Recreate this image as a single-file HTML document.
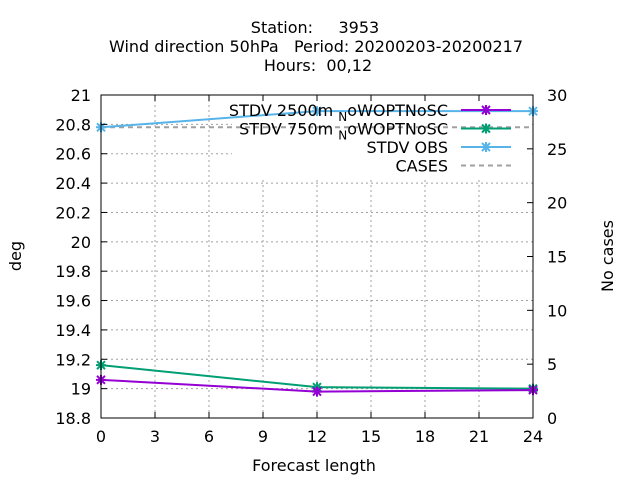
<!DOCTYPE html>
<html><head><meta charset="utf-8"><style>
body{margin:0;background:#fff;}
svg text{font-family:"DejaVu Sans","Liberation Sans",sans-serif;font-size:16px;fill:#000;white-space:pre;}
</style></head><body>
<svg id="c" width="640" height="480" viewBox="0 0 640 480">
<text x="315" y="33" text-anchor="middle" xml:space="preserve">Station:     3953</text>
<text x="316" y="52" text-anchor="middle" xml:space="preserve">Wind direction 50hPa   Period: 20200203-20200217</text>
<text x="318" y="71" text-anchor="middle" xml:space="preserve">Hours:  00,12</text>
<g id="grid"></g>
<rect x="232" y="96" width="300" height="82" fill="#fff"/>
<g id="series"></g>
<rect x="101" y="95" width="432" height="323" fill="none" stroke="#000" stroke-width="1"/>
<g id="ticks"></g>
<text x="314" y="471" text-anchor="middle">Forecast length</text>
<text transform="translate(21,256) rotate(-90)" text-anchor="middle">deg</text>
<text transform="translate(613,256) rotate(-90)" text-anchor="middle">No cases</text>
<g id="legend"></g>
</svg>
<script>
const xs=[0,12,24];
const s2500=[19.06,18.98,18.99];
const s750=[19.16,19.01,19.00];
const sObs=[20.78,20.89,20.89];
const cases=[27,27,27];
const xTicks=[0,3,6,9,12,15,18,21,24];
const yTicks=[18.8,19,19.2,19.4,19.6,19.8,20,20.2,20.4,20.6,20.8,21];
const y2Ticks=[0,5,10,15,20,25,30];
const L=101,R=533,T=95,B=418;
const X=v=>L+(v-0)/24*(R-L);
const Y=v=>B-(v-18.8)/2.2*(B-T);
const Y2=v=>B-v/30*(B-T);
const NS="http://www.w3.org/2000/svg";
function mk(t,a,p){const e=document.createElementNS(NS,t);for(const k in a)e.setAttribute(k,a[k]);p.appendChild(e);return e;}
const g=document.getElementById('grid'),tk=document.getElementById('ticks'),se=document.getElementById('series'),lg=document.getElementById('legend');
xTicks.forEach(v=>{const x=X(v);
 if(v>0&&v<24){const l=mk('line',{x1:x,x2:x,y1:T,y2:B,stroke:'#a0a0a0','stroke-dasharray':'2,3'},g);}
 mk('line',{x1:x,x2:x,y1:B,y2:B-6,stroke:'#000'},tk);mk('line',{x1:x,x2:x,y1:T,y2:T+6,stroke:'#000'},tk);
 const t=mk('text',{x:x,y:B+24,'text-anchor':'middle'},tk);t.textContent=v;});
yTicks.forEach(v=>{const y=Y(v);
 if(v>18.8&&v<21){const l=mk('line',{x1:L,x2:R,y1:y,y2:y,stroke:'#a0a0a0','stroke-dasharray':'2,3'},g);}
 mk('line',{x1:L,x2:L+6,y1:y,y2:y,stroke:'#000'},tk);
 const t=mk('text',{x:L-10,y:y+6,'text-anchor':'end'},tk);t.textContent=(Math.round(v*10)/10).toString();});
y2Ticks.forEach(v=>{const y=Y2(v);
 mk('line',{x1:R,x2:R-6,y1:y,y2:y,stroke:'#000'},tk);
 const t=mk('text',{x:R+14,y:y+6,'text-anchor':'start'},tk);t.textContent=v;});
function marker(x,y,c,p){mk('path',{d:`M${x-4},${y-4}L${x+4},${y+4}M${x-4},${y+4}L${x+4},${y-4}M${x-5},${y}L${x+5},${y}M${x},${y-5}L${x},${y+5}`,stroke:c,'stroke-width':2},p);}
const cs=mk('polyline',{points:xs.map((x,i)=>X(x)+','+Y2(cases[i])).join(' '),fill:'none',stroke:'#a0a0a0','stroke-width':2,'stroke-dasharray':'5,4'},se);

[[sObs,'#56b4e9','series-stdv-obs'],[s750,'#009e73','series-stdv-750m'],[s2500,'#9400d3','series-stdv-2500m']].forEach(([d,c,n])=>{
 const gg=mk('g',{},se);
 mk('polyline',{points:xs.map((x,i)=>X(x)+','+Y(d[i])).join(' '),fill:'none',stroke:c,'stroke-width':2},gg);
 xs.forEach((x,i)=>marker(X(x),Y(d[i]),c,gg));});
const leg=[['STDV 2500m','#9400d3',true,false],['STDV 750m','#009e73',true,false],['STDV OBS','#56b4e9',true,false],['CASES','#a0a0a0',false,true]];
leg.forEach((e,i)=>{const y=110+i*18.5;
 const gg=mk('g',{},lg);
 const t=mk('text',{x:448,y:y+6,'text-anchor':'end'},gg);
 if(i<2){t.textContent=e[0]+' ';const s1=mk('tspan',{dy:5,'font-size':'12'},t);s1.textContent='N';const s2=mk('tspan',{dy:-5},t);s2.textContent='oWOPTNoSC';}
 else t.textContent=e[0];
 mk('line',{x1:461,x2:511,y1:y,y2:y,stroke:e[1],'stroke-width':2,'stroke-dasharray':e[3]?'5,4':'none'},gg);
 if(e[2])marker(486,y,e[1],gg);});
</script>
</body></html>
